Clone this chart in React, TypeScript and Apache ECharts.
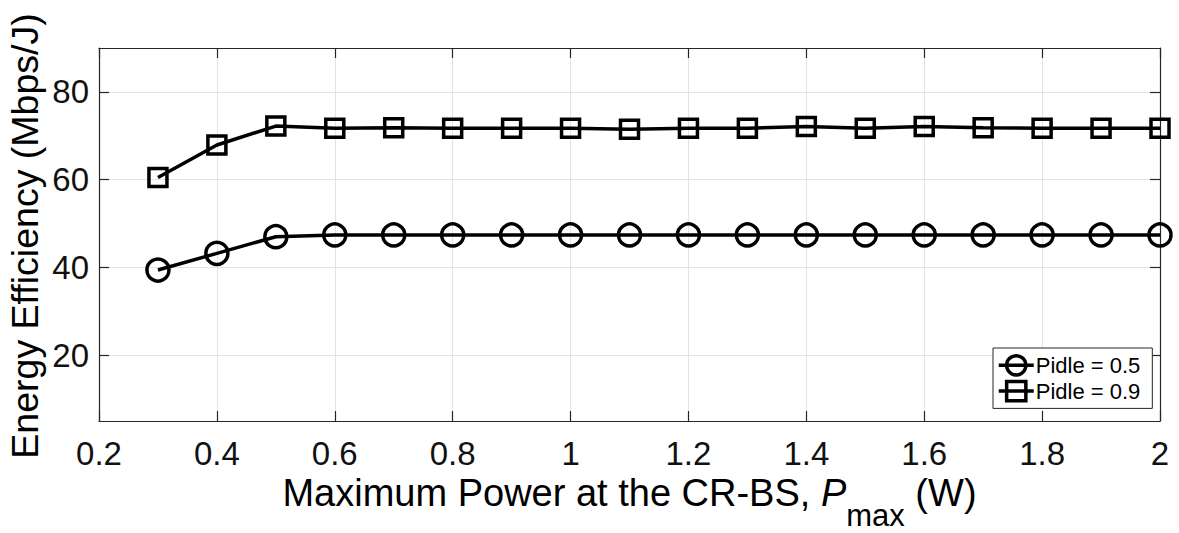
import React, { useEffect, useRef } from "react";
import * as echarts from "echarts";

const pmax = [0.3, 0.4, 0.5, 0.6, 0.7, 0.8, 0.9, 1.0, 1.1, 1.2, 1.3, 1.4, 1.5, 1.6, 1.7, 1.8, 1.9, 2.0];
const eePidle05 = [39.4, 43.2, 47.0, 47.4, 47.4, 47.4, 47.4, 47.4, 47.4, 47.4, 47.4, 47.4, 47.4, 47.4, 47.4, 47.4, 47.4, 47.4];
const eePidle09 = [60.5, 67.9, 72.2, 71.7, 71.8, 71.7, 71.7, 71.7, 71.5, 71.7, 71.7, 72.1, 71.7, 72.1, 71.85, 71.7, 71.7, 71.7];
const seriesNames = ["Pidle = 0.5", "Pidle = 0.9"];
const yTicks = [20, 40, 60, 80];

const FONT = "'Liberation Sans', Arial, Helvetica, sans-serif";
const AXIS = "#262626";
const GRID = "#e3e3e3";

export default function App() {
  const ref = useRef<HTMLDivElement>(null);
  useEffect(() => {
    if (!ref.current) return;
    const chart = echarts.init(ref.current, null, { renderer: "svg" });
    const xCommon = {
      type: "value",
      min: 0.2,
      max: 2,
      interval: 0.2,
      axisLine: { show: true, lineStyle: { color: AXIS, width: 1.2 } },
      axisTick: { show: true, inside: true, length: 10, lineStyle: { color: AXIS, width: 1.2 } },
    };
    const yCommon = {
      type: "value",
      min: 5,
      max: 90,
      axisLine: { show: true, lineStyle: { color: AXIS, width: 1.2 } },
      axisTick: { show: true, inside: true, length: 10, customValues: yTicks, lineStyle: { color: AXIS, width: 1.2 } },
    };
    const lineSeries = (name: string, ys: number[], symbol: string, size: number) => ({
      name,
      type: "line",
      data: pmax.map((x, i) => [x, ys[i]]),
      symbol,
      symbolSize: size,
      showAllSymbol: true,
      lineStyle: { color: "#000", width: 3.5 },
      itemStyle: { color: "rgba(255,255,255,0)", borderColor: "#000", borderWidth: 3.5 },
      emphasis: { disabled: true },
      z: 3,
    });
    chart.setOption({
      animation: false,
      backgroundColor: "#fff",
      grid: { left: 99, right: 19, top: 48, bottom: 112, containLabel: false },
      xAxis: [
        {
          ...xCommon,
          position: "bottom",
          axisLabel: {
            show: true,
            fontSize: 33,
            fontFamily: FONT,
            color: "#111",
            margin: 16,
            formatter: (v: number) => String(+v.toFixed(1)),
          },
          splitLine: { show: true, lineStyle: { color: GRID, width: 1 } },
        },
        {
          ...xCommon,
          position: "top",
          axisLabel: { show: false },
          splitLine: { show: false },
        },
      ],
      yAxis: [
        {
          ...yCommon,
          position: "left",
          axisLabel: {
            show: true,
            fontSize: 33,
            fontFamily: FONT,
            color: "#111",
            margin: 10,
            customValues: yTicks,
          },
          splitLine: { show: true, lineStyle: { color: GRID, width: 1 } },
        },
        {
          ...yCommon,
          position: "right",
          axisLabel: { show: false },
          splitLine: { show: false },
        },
      ],
      legend: {
        orient: "vertical",
        left: 993,
        top: 348,
        itemWidth: 35,
        itemHeight: 24,
        itemGap: 3,
        padding: [6, 12, 6, 4],
        borderColor: AXIS,
        borderWidth: 1,
        backgroundColor: "#fff",
        lineStyle: { width: 3.5, color: "#000" },
        itemStyle: { borderWidth: 3.5, borderColor: "#000", color: "rgba(255,255,255,0)" },
        textStyle: { fontSize: 22, fontFamily: FONT, color: "#000", padding: [0, 0, 0, -3] },
        data: seriesNames,
        selectedMode: false,
      },
      graphic: [
        {
          type: "text",
          x: 629.5,
          y: 474,
          style: {
            text: "{a|Maximum Power at the CR-BS, }{i|P}{s|max}{a| (W)}",
            fill: "#000",
            align: "center",
            verticalAlign: "top",
            rich: {
              a: { fontSize: 38, fontFamily: FONT, verticalAlign: "top", fill: "#000" },
              i: { fontSize: 38, fontFamily: FONT, fontStyle: "italic", verticalAlign: "top", fill: "#000" },
              s: { fontSize: 31, fontFamily: FONT, verticalAlign: "top", padding: [26, 0, 0, 0], fill: "#000" },
            },
          },
        },
        {
          type: "text",
          x: 6,
          y: 236,
          rotation: Math.PI / 2,
          style: {
            text: "Energy Efficiency (Mbps/J)",
            font: `37.5px ${FONT}`,
            fill: "#000",
            align: "center",
            verticalAlign: "top",
          },
        },
      ],
      series: [
        lineSeries(seriesNames[0], eePidle05, "circle", 22),
        lineSeries(seriesNames[1], eePidle09, "rect", 18),
      ],
    });
    return () => chart.dispose();
  }, []);
  return <div ref={ref} style={{ position: "fixed", left: 0, top: 0, width: 1179, height: 533 }} />;
}
